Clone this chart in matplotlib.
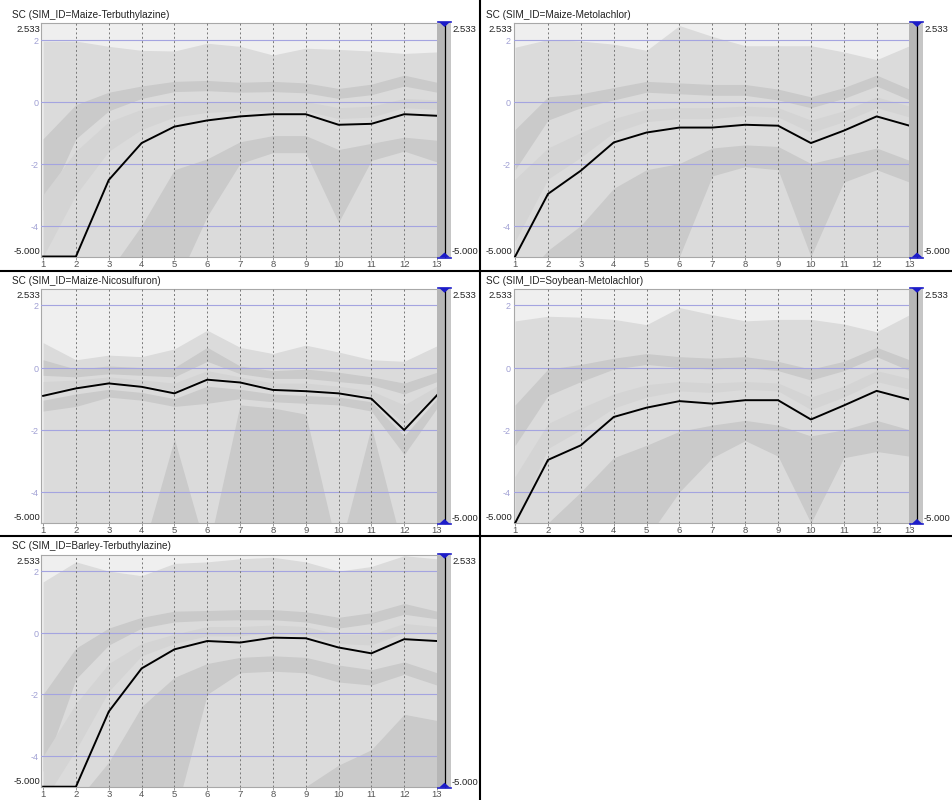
import matplotlib
matplotlib.use("Agg")
import matplotlib.pyplot as plt
from matplotlib.patches import Rectangle, Polygon
from matplotlib.lines import Line2D

W, H = 953, 800
steps = list(range(1, 14))
step_labels = [str(s) for s in steps]
y_lo, y_hi = -5.0, 2.533
grid_values = [2, 0, -2, -4]
grid_labels = ["2", "0", "-2", "-4"]

titles = [
    "SC (SIM_ID=Maize-Terbuthylazine)",
    "SC (SIM_ID=Maize-Metolachlor)",
    "SC (SIM_ID=Maize-Nicosulfuron)",
    "SC (SIM_ID=Soybean-Metolachlor)",
    "SC (SIM_ID=Barley-Terbuthylazine)",
]

# Maize-Terbuthylazine
mt_median = [-5.0, -5.0, -2.53, -1.34, -0.81, -0.61, -0.48, -0.41, -0.41, -0.75, -0.72, -0.41, -0.46]
mt_max = [1.95, 1.95, 1.78, 1.65, 1.63, 1.88, 1.78, 1.5, 1.72, 1.68, 1.63, 1.55, 1.6]
mt_up_hi = [-1.2, -0.1, 0.3, 0.5, 0.65, 0.68, 0.62, 0.65, 0.6, 0.42, 0.56, 0.85, 0.62]
mt_up_lo = [-3.5, -1.2, -0.3, 0.1, 0.32, 0.35, 0.3, 0.32, 0.28, 0.1, 0.22, 0.5, 0.3]
mt_mid_hi = [-3.0, -1.6, -0.65, -0.25, -0.05, 0.0, 0.0, 0.0, 0.0, -0.2, -0.15, 0.1, 0.05]
mt_mid_lo = [-5.0, -3.0, -1.6, -0.9, -0.5, -0.35, -0.3, -0.3, -0.3, -0.55, -0.5, -0.2, -0.25]
mt_low_hi = [-6.0, -6.0, -5.5, -4.0, -2.2, -1.85, -1.3, -1.1, -1.1, -1.55, -1.35, -1.15, -1.25]
mt_low_lo = [-6.0, -6.0, -6.0, -6.0, -6.0, -3.7, -2.0, -1.65, -1.65, -3.9, -1.9, -1.6, -1.95]

# Maize-Metolachlor
mm_median = [-5.0, -2.98, -2.23, -1.32, -1.0, -0.84, -0.84, -0.75, -0.78, -1.34, -0.94, -0.48, -0.78]
mm_max = [1.75, 2.0, 1.95, 1.85, 1.65, 2.45, 2.1, 1.8, 1.8, 1.8, 1.6, 1.35, 1.8]
mm_up_hi = [-0.9, 0.15, 0.25, 0.45, 0.65, 0.6, 0.55, 0.55, 0.4, 0.15, 0.45, 0.85, 0.4]
mm_up_lo = [-2.2, -0.6, -0.2, 0.05, 0.3, 0.25, 0.2, 0.2, 0.05, -0.2, 0.1, 0.5, 0.05]
mm_mid_hi = [-2.5, -1.5, -1.0, -0.55, -0.25, -0.2, -0.2, -0.15, -0.2, -0.6, -0.3, 0.15, -0.15]
mm_mid_lo = [-4.5, -2.5, -1.8, -1.0, -0.65, -0.55, -0.55, -0.45, -0.5, -1.0, -0.65, -0.2, -0.5]
mm_low_hi = [-6.0, -4.8, -4.0, -2.8, -2.2, -2.0, -1.5, -1.4, -1.45, -2.0, -1.75, -1.5, -1.9]
mm_low_lo = [-6.0, -6.0, -6.0, -6.0, -5.2, -5.0, -2.4, -2.1, -2.2, -5.0, -2.6, -2.2, -2.6]

# Maize-Nicosulfuron
mn_median = [-0.91, -0.67, -0.51, -0.62, -0.83, -0.39, -0.48, -0.72, -0.76, -0.83, -1.0, -2.01, -0.89]
mn_max = [0.8, 0.25, 0.4, 0.35, 0.6, 1.2, 0.65, 0.45, 0.72, 0.5, 0.25, 0.2, 0.7]
mn_up_hi = [0.25, -0.05, 0.05, 0.0, 0.0, 0.65, 0.05, -0.1, -0.05, -0.15, -0.3, -0.5, -0.15]
mn_up_lo = [-0.25, -0.3, -0.2, -0.25, -0.3, 0.2, -0.2, -0.35, -0.35, -0.45, -0.55, -0.85, -0.45]
mn_mid_hi = [-0.45, -0.4, -0.3, -0.4, -0.5, -0.1, -0.3, -0.5, -0.5, -0.6, -0.75, -1.2, -0.6]
mn_mid_lo = [-0.8, -0.6, -0.45, -0.55, -0.75, -0.3, -0.42, -0.65, -0.68, -0.75, -0.92, -1.8, -0.8]
mn_low_hi = [-1.05, -0.85, -0.7, -0.8, -1.0, -0.6, -0.7, -0.85, -0.9, -0.95, -1.1, -2.2, -1.0]
mn_low_lo = [-1.4, -1.25, -0.95, -1.05, -1.25, -1.15, -1.0, -1.1, -1.15, -1.2, -1.4, -2.8, -1.3]
mn_tail = [-6.0, -6.0, -6.0, -6.0, -2.3, -6.0, -1.2, -1.3, -1.5, -6.0, -1.9, -6.0, -6.0]

# Soybean-Metolachlor
sm_median = [-5.0, -2.97, -2.5, -1.59, -1.29, -1.08, -1.16, -1.05, -1.05, -1.67, -1.22, -0.75, -1.03]
sm_max = [1.5, 1.65, 1.62, 1.55, 1.38, 1.93, 1.7, 1.5, 1.55, 1.55, 1.4, 1.15, 1.7]
sm_up_hi = [-1.2, -0.05, 0.1, 0.3, 0.45, 0.35, 0.3, 0.35, 0.2, -0.05, 0.2, 0.65, 0.25]
sm_up_lo = [-2.5, -0.9, -0.45, -0.05, 0.1, 0.0, -0.05, 0.0, -0.1, -0.4, -0.1, 0.35, -0.1]
sm_mid_hi = [-3.5, -1.8, -1.3, -0.85, -0.55, -0.45, -0.5, -0.45, -0.5, -0.95, -0.6, -0.1, -0.35]
sm_mid_lo = [-5.0, -2.6, -2.0, -1.3, -0.95, -0.75, -0.8, -0.7, -0.75, -1.35, -0.95, -0.45, -0.7]
sm_low_hi = [-6.0, -5.0, -4.0, -2.9, -2.5, -2.05, -1.85, -1.7, -1.85, -2.2, -2.0, -1.7, -2.0]
sm_low_lo = [-6.0, -6.0, -6.0, -6.0, -5.5, -4.0, -2.9, -2.35, -2.85, -5.0, -2.9, -2.7, -2.85]

# Barley-Terbuthylazine
bt_median = [-5.0, -5.0, -2.56, -1.16, -0.54, -0.27, -0.32, -0.16, -0.18, -0.48, -0.67, -0.21, -0.27]
bt_max = [1.65, 2.3, 2.0, 1.85, 2.25, 2.3, 2.4, 2.45, 2.3, 2.0, 2.15, 2.5, 2.4]
bt_up_hi = [-2.0, -0.5, 0.15, 0.5, 0.7, 0.72, 0.75, 0.75, 0.68, 0.5, 0.65, 0.95, 0.7]
bt_up_lo = [-4.5, -1.5, -0.4, 0.15, 0.35, 0.4, 0.42, 0.42, 0.35, 0.15, 0.3, 0.6, 0.45]
bt_mid_hi = [-4.0, -2.3, -1.0, -0.35, -0.05, 0.2, 0.2, 0.25, 0.2, -0.05, -0.05, 0.3, 0.2]
bt_mid_lo = [-5.5, -3.8, -1.9, -0.75, -0.35, -0.1, -0.1, 0.0, -0.05, -0.35, -0.4, 0.0, -0.05]
bt_low_hi = [-6.0, -5.5, -4.2, -2.4, -1.45, -1.0, -0.8, -0.75, -0.8, -1.05, -1.2, -0.95, -1.3]
bt_low_lo = [-6.0, -6.0, -6.0, -6.0, -6.0, -2.0, -1.3, -1.25, -1.3, -1.6, -1.7, -1.35, -1.7]
bt_tail = [-6.0, -6.0, -6.0, -6.0, -6.0, -6.0, -6.0, -6.0, -5.0, -4.3, -3.8, -2.65, -2.85]

series = [
    (mt_median, mt_max, mt_up_hi, mt_up_lo, mt_mid_hi, mt_mid_lo, mt_low_hi, mt_low_lo, None),
    (mm_median, mm_max, mm_up_hi, mm_up_lo, mm_mid_hi, mm_mid_lo, mm_low_hi, mm_low_lo, None),
    (mn_median, mn_max, mn_up_hi, mn_up_lo, mn_mid_hi, mn_mid_lo, mn_low_hi, mn_low_lo, mn_tail),
    (sm_median, sm_max, sm_up_hi, sm_up_lo, sm_mid_hi, sm_mid_lo, sm_low_hi, sm_low_lo, None),
    (bt_median, bt_max, bt_up_hi, bt_up_lo, bt_mid_hi, bt_mid_lo, bt_low_hi, bt_low_lo, bt_tail),
]

# panel geometry in pixels
col_x = [(41.5, 437.0, 12.0), (513.5, 909.5, 486.0)]
row_y = [(23.0, 256.5, 15.0), (288.8, 523.0, 281.0), (554.7, 786.7, 546.0)]
cells = [(0, 0), (1, 0), (0, 1), (1, 1), (0, 2)]

C_BG = "#efefef"
C_LIGHT = "#dbdbdb"
C_MID = "#d4d4d4"
C_DARK = "#cacaca"
C_GRID = "#a4a4e0"
C_TICK = "#a0a0d4"
C_TEXT = "#222222"
C_BLUE = "#1c1cc8"

plt.rcParams["font.family"] = ["Liberation Sans", "DejaVu Sans"]

fig = plt.figure(figsize=(W / 100, H / 100), dpi=100)
fig.patch.set_facecolor("white")


def fx(px):
    return px / W


def fy(py):
    return 1 - py / H


for (col, row), title, data in zip(cells, titles, series):
    left, right, title_x = col_x[col]
    top, bottom, title_y = row_y[row]
    median, vmax, up_hi, up_lo, mid_hi, mid_lo, low_hi, low_lo, tail = data

    ax = fig.add_axes([fx(left), fy(bottom), (right - left) / W, (bottom - top) / H])
    ax.set_facecolor(C_BG)
    ax.set_xlim(0.95, 13)
    ax.set_ylim(y_lo, y_hi)

    ax.fill_between(steps, -6, vmax, color=C_LIGHT, lw=0, zorder=1)
    ax.fill_between(steps, up_lo, up_hi, color=C_DARK, lw=0, zorder=2)
    ax.fill_between(steps, mid_lo, mid_hi, color=C_MID, lw=0, zorder=2)
    ax.fill_between(steps, low_lo, low_hi, color=C_DARK, lw=0, zorder=2)
    if tail is not None:
        ax.fill_between(steps, -6, tail, color=C_DARK, lw=0, zorder=2)

    for g in grid_values:
        ax.axhline(g, color=C_GRID, lw=0.8, zorder=3)
    for s in steps[1:-1]:
        ax.axvline(s, color="#777777", lw=0.7, ls=(0, (2.0, 2.5)), zorder=3)

    ax.plot(steps, median, color="black", lw=1.4, zorder=5, solid_joinstyle="round")

    for side in ("top", "left", "bottom"):
        ax.spines[side].set_color("#a8a8a8")
        ax.spines[side].set_linewidth(0.8)
    ax.spines["right"].set_visible(False)
    ax.set_xticks(steps)
    ax.set_xticklabels(step_labels)
    ax.tick_params(axis="x", length=2, width=0.6, color="#888888", pad=0.5,
                   labelsize=6.8, labelcolor="#555555")
    ax.set_yticks([])

    # title
    fig.text(fx(title_x), fy(title_y), title, fontsize=7.2, color=C_TEXT,
             ha="left", va="center")

    # left range labels and grid values
    fig.text(fx(left - 1.5), fy(top + 6.5), "2.533", fontsize=6.8, color=C_TEXT,
             ha="right", va="center")
    fig.text(fx(left - 1.5), fy(bottom - 5.0), "-5.000", fontsize=6.8, color=C_TEXT,
             ha="right", va="center")
    for g, gl in zip(grid_values, grid_labels):
        ypx = top + (y_hi - g) / (y_hi - y_lo) * (bottom - top)
        fig.text(fx(left - 3.0), fy(ypx + 1.5), gl, fontsize=6.5, color=C_TICK,
                 ha="right", va="center")

    # range slider on the right edge
    fig.add_artist(Rectangle((fx(right), fy(bottom)), 14 / W, (bottom - top) / H,
                             transform=fig.transFigure, facecolor="#b6b6b6",
                             edgecolor="none", zorder=2))
    fig.add_artist(Rectangle((fx(right + 8.5), fy(bottom)), 5.5 / W, (bottom - top) / H,
                             transform=fig.transFigure, facecolor="#c6c6c6",
                             edgecolor="none", zorder=2))
    fig.add_artist(Line2D([fx(right + 8), fx(right + 8)], [fy(top), fy(bottom)],
                          transform=fig.transFigure, color="black", lw=0.9, zorder=3))
    fig.add_artist(Line2D([fx(right + 1), fx(right + 14)], [fy(top - 1), fy(top - 1)],
                          transform=fig.transFigure, color=C_BLUE, lw=1.2, zorder=4))
    fig.add_artist(Polygon([(fx(right + 2), fy(top - 1)), (fx(right + 13), fy(top - 1)),
                            (fx(right + 7.5), fy(top + 4))], closed=True,
                           transform=fig.transFigure, facecolor=C_BLUE,
                           edgecolor="none", zorder=4))
    fig.add_artist(Line2D([fx(right + 1), fx(right + 14)], [fy(bottom + 1), fy(bottom + 1)],
                          transform=fig.transFigure, color=C_BLUE, lw=1.2, zorder=4))
    fig.add_artist(Polygon([(fx(right + 2), fy(bottom + 1)), (fx(right + 13), fy(bottom + 1)),
                            (fx(right + 7.5), fy(bottom - 4))], closed=True,
                           transform=fig.transFigure, facecolor=C_BLUE,
                           edgecolor="none", zorder=4))
    fig.text(fx(right + 15), fy(top + 6.5), "2.533", fontsize=6.8, color=C_TEXT,
             ha="left", va="center")
    fig.text(fx(right + 14.5), fy(bottom - 4.5), "-5.000", fontsize=6.8, color=C_TEXT,
             ha="left", va="center")

# panel separators
fig.add_artist(Line2D([fx(480.5), fx(480.5)], [0, 1], transform=fig.transFigure,
                      color="black", lw=1.5))
for ysep in (270.5, 535.5):
    fig.add_artist(Line2D([0, 1], [fy(ysep), fy(ysep)], transform=fig.transFigure,
                          color="black", lw=1.5))

fig.savefig("out.png", dpi=100, facecolor="white")
